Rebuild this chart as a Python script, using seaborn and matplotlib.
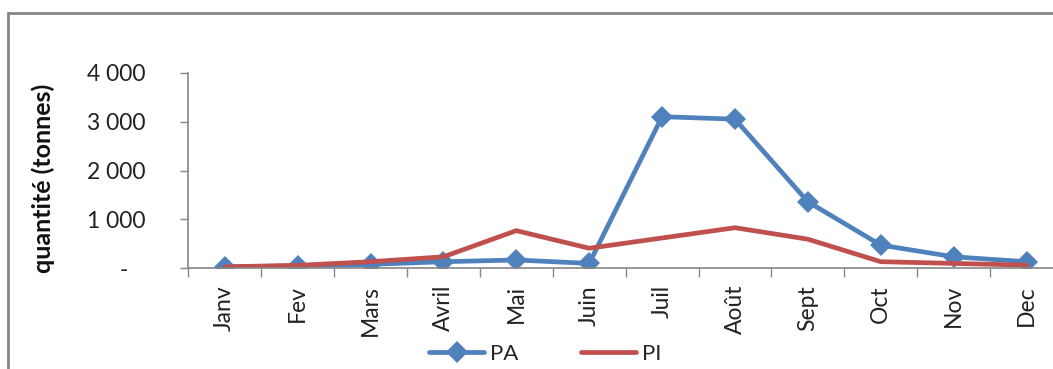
import numpy as np
import pandas as pd
import seaborn as sns
import matplotlib.pyplot as plt
from matplotlib.lines import Line2D

# Monthly quantities (tonnes) for the two series
months = ["Janv", "Fev", "Mars", "Avril", "Mai", "Juin",
          "Juil", "Août", "Sept", "Oct", "Nov", "Dec"]
pa = [30, 50, 80, 135, 170, 100, 3100, 3050, 1360, 475, 235, 135]
pi = [30, 60, 135, 235, 770, 410, 620, 830, 595, 135, 100, 65]
y_ticks = [0, 1000, 2000, 3000, 4000]
y_tick_labels = ["-   ", "1 000", "2 000", "3 000", "4 000"]

sns.set_theme(style="white")
plt.rcParams["font.family"] = ["Lato", "DejaVu Sans"]

df = pd.DataFrame({
    "idx": list(range(len(months))) * 2,
    "valeur": pa + pi,
    "serie": ["PA"] * len(months) + ["PI"] * len(months),
})

W, H = 1053, 369
fig = plt.figure(figsize=(W / 100, H / 100), dpi=100)
ax = fig.add_axes([188.3 / W, 1 - 268.3 / H, (1063 - 188.3) / W, (268.3 - 72.7) / H])

blue, red, grey = "#4F81BD", "#C0504D", "#868686"

sns.lineplot(data=df[df.serie == "PA"], x="idx", y="valeur", ax=ax,
             color=blue, linewidth=3.4, marker="D", markersize=11.5,
             markeredgewidth=0, label="PA")
sns.lineplot(data=df[df.serie == "PI"], x="idx", y="valeur", ax=ax,
             color=red, linewidth=3.4, label="PI")

ax.set_xlim(-0.5, len(months) - 0.5)
ax.set_ylim(0, 4000)

# category labels at centres, tick marks on boundaries
ax.set_xticks(range(len(months)))
ax.set_xticklabels(months, rotation=90, fontsize=16.5, color="#222222")
ax.set_xticks(np.arange(-0.5, len(months), 1), minor=True)
ax.tick_params(axis="x", which="major", length=0, pad=12)
ax.tick_params(axis="x", which="minor", length=6.5, width=1, color=grey,
               direction="out", bottom=True)

ax.set_yticks(y_ticks)
ax.set_yticklabels(y_tick_labels, fontsize=16.5, color="#222222")
ax.tick_params(axis="y", which="major", length=6, width=1, color=grey,
               direction="out", left=True, pad=24.5)

ax.set_xlabel("")
ax.set_ylabel("quantité (tonnes)", fontsize=18, fontweight="bold", color="#111111")
ax.yaxis.set_label_coords(-0.152, 0.46)

for side in ["top", "right"]:
    ax.spines[side].set_visible(False)
for side in ["left", "bottom"]:
    ax.spines[side].set_color(grey)
    ax.spines[side].set_linewidth(1.2)

ax.legend(loc="center", bbox_to_anchor=(545 / W, 1 - 354 / H),
          bbox_transform=fig.transFigure, ncol=2, frameon=False,
          fontsize=16, handlelength=2.5, handletextpad=0.25,
          columnspacing=2.8, borderpad=0)

# outer chart frame (left and top edges)
fig.add_artist(Line2D([8 / W, 8 / W], [0, 1 - 13 / H], transform=fig.transFigure,
                      color=grey, linewidth=2))
fig.add_artist(Line2D([8 / W, 1], [1 - 13 / H, 1 - 13 / H], transform=fig.transFigure,
                      color=grey, linewidth=2))

fig.savefig("out.png", dpi=100)
